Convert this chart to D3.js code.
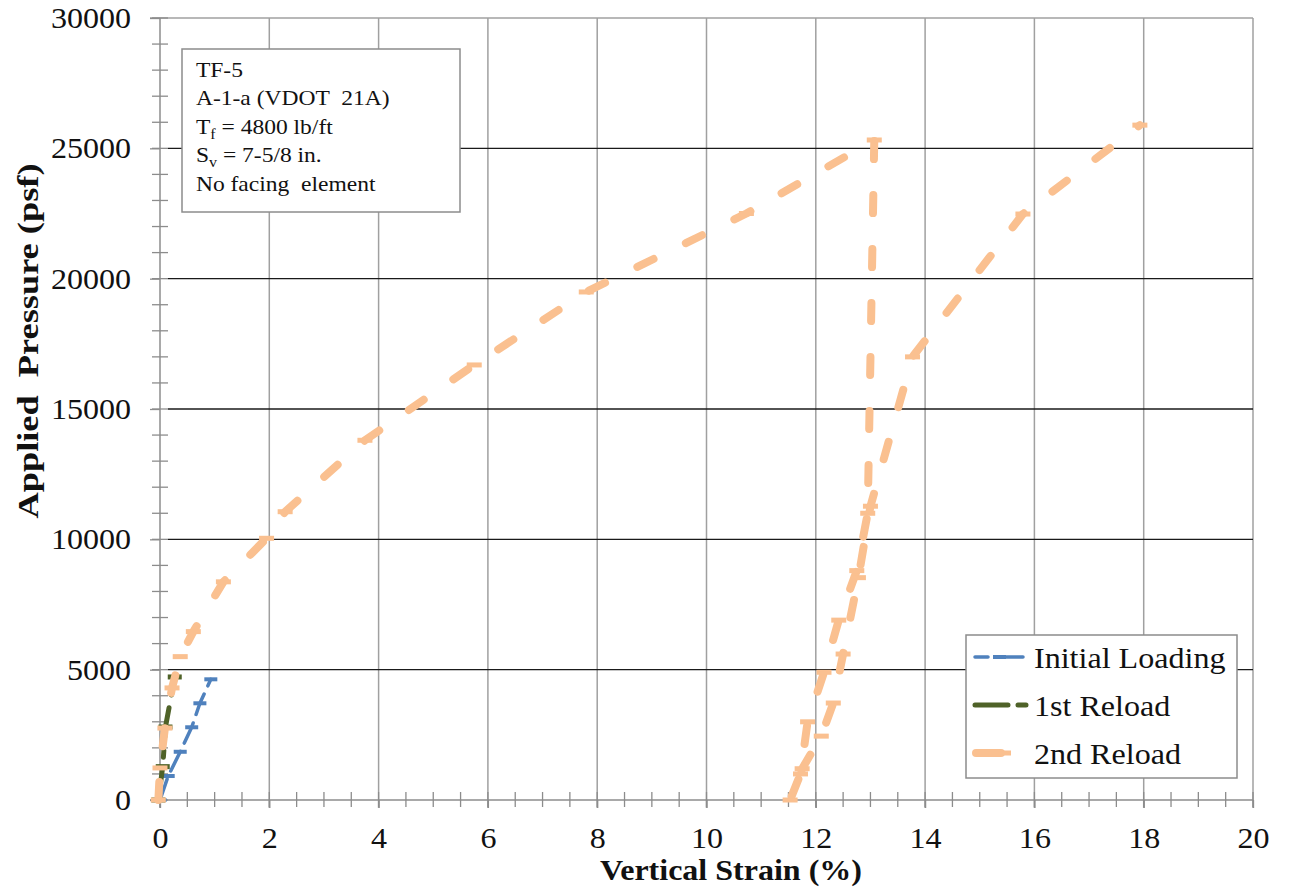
<!DOCTYPE html>
<html>
<head>
<meta charset="utf-8">
<script src="https://cdn.jsdelivr.net/npm/d3@7"></script>
<style>
  html, body { margin: 0; padding: 0; background: #fff; }
  svg { display: block; font-family: "Liberation Serif", "Times New Roman", serif; }
  text { white-space: pre; }
</style>
</head>
<body>
<svg id="chart" width="1289" height="894"></svg>
<script>
// ---------- data ----------
const xTicks = [0, 2, 4, 6, 8, 10, 12, 14, 16, 18, 20];
const yTicks = [0, 5000, 10000, 15000, 20000, 25000, 30000];
const xMinor = d3.range(0, 20.01, 0.5);
const yMinor = d3.range(0, 30001, 1000);

const seriesNames = ["Initial Loading", "1st Reload", "2nd Reload"];

const initialX = [0, 0.15, 0.37, 0.58, 0.73, 0.93];
const initialY = [0, 920, 1850, 2790, 3710, 4630];

const reload1X = [-0.03, 0.05, 0.10, 0.27];
const reload1Y = [0, 1280, 2800, 4720];

const reload2X = [-0.03, 0.0, 0.09, 0.22, 0.37, 0.61, 1.16, 1.95, 2.29, 3.75, 5.75, 7.8, 10.73, 13.07,
                  12.95, 12.75, 12.42, 12.15, 11.85, 11.72, 11.53,
                  11.75, 12.1, 12.32, 12.5, 12.78, 13.0, 13.77, 15.79, 17.93];
const reload2Y = [0, 1230, 2760, 4300, 5500, 6460, 8370, 10040, 11060, 13800, 16690, 19490, 22500, 25320,
                  11000, 8800, 6900, 4900, 3000, 1000, 0,
                  1200, 2450, 3720, 5600, 8530, 11270, 17000, 22480, 25890];

const noteLines = [["TF-5"], ["A-1-a (VDOT  21A)"], ["T", "f", " = 4800 lb/ft"], ["S", "v", " = 7-5/8 in."], ["No facing  element"]];

// ---------- layout ----------
const svg = d3.select("#chart");
const x = d3.scaleLinear().domain([0, 20]).range([160, 1253]);
const y = d3.scaleLinear().domain([0, 30000]).range([800, 18]);
const SX = 1.07; // horizontal stretch of the reference's text

const styles = [
  { color: "#4F81BD", width: 3.5, dash: "22,9", cap: "round", mw: 13, mh: 4 },
  { color: "#4F6228", width: 5, dash: "30,13,7,13", cap: "round", mw: 14, mh: 5 },
  { color: "#FAC090", width: 8, dash: "18,36", cap: "round", mw: 15, mh: 5 }
];

// grid
const grid = svg.append("g");
grid.selectAll("line.v").data(xTicks.filter(d => d > 0)).join("line")
  .attr("x1", d => x(d)).attr("x2", d => x(d)).attr("y1", y(30000)).attr("y2", y(0) + 8)
  .attr("stroke", "#a0a0a0").attr("stroke-width", 1.5);
grid.selectAll("line.h").data(yTicks.filter(d => d > 0 && d < 30000)).join("line")
  .attr("x1", 168).attr("x2", x(20)).attr("y1", d => y(d)).attr("y2", d => y(d))
  .attr("stroke", "#1a1a1a").attr("stroke-width", 1.4);
// top border
grid.append("line").attr("x1", 150).attr("x2", x(20)).attr("y1", y(30000)).attr("y2", y(30000))
  .attr("stroke", "#a0a0a0").attr("stroke-width", 1.5);

// axes lines
const axisColor = "#8c8c8c";
svg.append("line").attr("x1", x(0)).attr("x2", x(0)).attr("y1", y(30000)).attr("y2", y(0) + 8)
  .attr("stroke", axisColor).attr("stroke-width", 1.5);
svg.append("line").attr("x1", 150).attr("x2", x(20)).attr("y1", y(0)).attr("y2", y(0))
  .attr("stroke", axisColor).attr("stroke-width", 1.5);

// minor ticks
svg.append("g").selectAll("line").data(yMinor).join("line")
  .attr("x1", 152).attr("x2", 168).attr("y1", d => y(d)).attr("y2", d => y(d))
  .attr("stroke", axisColor).attr("stroke-width", 1.3);
svg.append("g").selectAll("line").data(xMinor).join("line")
  .attr("x1", d => x(d)).attr("x2", d => x(d)).attr("y1", y(0) - 8).attr("y2", y(0) + 7)
  .attr("stroke", axisColor).attr("stroke-width", 1.3);

// tick labels via d3 axes
const yAxis = svg.append("g").attr("transform", `translate(${x(0)},0)`)
  .call(d3.axisLeft(y).tickValues(yTicks).tickSize(10).tickPadding(17).tickFormat(d3.format("d")));
const xAxis = svg.append("g").attr("transform", `translate(0,${y(0)})`)
  .call(d3.axisBottom(x).tickValues(xTicks).tickSize(8).tickPadding(19).tickFormat(d3.format("d")));
[yAxis, xAxis].forEach(a => {
  a.select(".domain").remove();
  a.selectAll(".tick line").attr("stroke", axisColor).attr("stroke-width", 1.3);
  a.selectAll(".tick text").attr("font-family", "Liberation Serif, Times New Roman, serif")
    .attr("font-size", 30).attr("fill", "#111").attr("transform", `scale(${SX},1)`);
});

// axis titles
svg.append("text").attr("x", 731).attr("y", 880).attr("text-anchor", "middle")
  .attr("font-size", 30).attr("font-weight", "bold").attr("fill", "#111")
  .attr("textLength", 262).attr("lengthAdjust", "spacingAndGlyphs")
  .text("Vertical Strain (%)");
svg.append("text").attr("transform", "translate(38,341) rotate(-90)").attr("text-anchor", "middle")
  .attr("font-size", 30).attr("font-weight", "bold").attr("fill", "#111")
  .attr("textLength", 355).attr("lengthAdjust", "spacingAndGlyphs")
  .text("Applied  Pressure (psf)");

// series
const seriesData = [
  d3.zip(initialX, initialY),
  d3.zip(reload1X, reload1Y),
  d3.zip(reload2X, reload2Y)
];
const line = d3.line().x(d => x(d[0])).y(d => y(d[1]));
seriesData.forEach((pts, i) => {
  const s = styles[i];
  const g = svg.append("g");
  g.append("path").attr("d", line(pts)).attr("fill", "none")
    .attr("stroke", s.color).attr("stroke-width", s.width)
    .attr("stroke-dasharray", s.dash).attr("stroke-linecap", s.cap).attr("stroke-linejoin", "round");
  g.selectAll("rect").data(pts).join("rect")
    .attr("x", d => x(d[0]) - s.mw / 2).attr("y", d => y(d[1]) - s.mh / 2)
    .attr("width", s.mw).attr("height", s.mh).attr("fill", s.color);
});

// annotation box
const note = svg.append("g").attr("transform", `translate(182,49)`);
note.append("rect").attr("width", 278).attr("height", 163).attr("fill", "#fff")
  .attr("stroke", "#8c8c8c").attr("stroke-width", 1.5);
const noteText = note.append("g").attr("transform", `scale(${SX},1)`);
noteLines.forEach((parts, i) => {
  const t = noteText.append("text").attr("x", 13).attr("y", 28 + i * 28.4)
    .attr("font-size", 22).attr("fill", "#111");
  if (parts.length === 1) {
    t.text(parts[0]);
  } else {
    t.append("tspan").text(parts[0]);
    t.append("tspan").attr("font-size", 15).attr("dy", 5).text(parts[1]);
    t.append("tspan").attr("dy", -5).text(parts[2]);
  }
});

// legend
const leg = svg.append("g").attr("transform", "translate(966,635)");
leg.append("rect").attr("width", 271).attr("height", 143).attr("fill", "#fff")
  .attr("stroke", "#8c8c8c").attr("stroke-width", 1.5);
seriesNames.forEach((name, i) => {
  const s = styles[i];
  const cy = 22 + i * 48;
  const g = leg.append("g").attr("transform", `translate(0,${cy})`);
  if (i === 0) {
    g.append("line").attr("x1", 9).attr("x2", 57).attr("y1", 0).attr("y2", 0)
      .attr("stroke", s.color).attr("stroke-width", s.width).attr("stroke-linecap", "round")
      .attr("stroke-dasharray", "13,8,27,9");
    g.append("rect").attr("x", 27).attr("y", -s.mh / 2).attr("width", s.mw).attr("height", s.mh).attr("fill", s.color);
  } else if (i === 1) {
    g.append("line").attr("x1", 9).attr("x2", 66).attr("y1", 0).attr("y2", 0)
      .attr("stroke", s.color).attr("stroke-width", s.width).attr("stroke-linecap", "round")
      .attr("stroke-dasharray", "33,10,8,20");
  } else {
    g.append("line").attr("x1", 10).attr("x2", 35).attr("y1", 0).attr("y2", 0)
      .attr("stroke", s.color).attr("stroke-width", s.width).attr("stroke-linecap", "round");
    g.append("rect").attr("x", 35).attr("y", -s.mh / 2).attr("width", s.mw - 5).attr("height", s.mh).attr("fill", s.color);
  }
  g.append("text").attr("x", 68).attr("y", 11).attr("font-size", 30).attr("fill", "#111")
    .attr("transform", `translate(68,0) scale(${SX},1) translate(-68,0)`)
    .text(name);
});
</script>
</body>
</html>
